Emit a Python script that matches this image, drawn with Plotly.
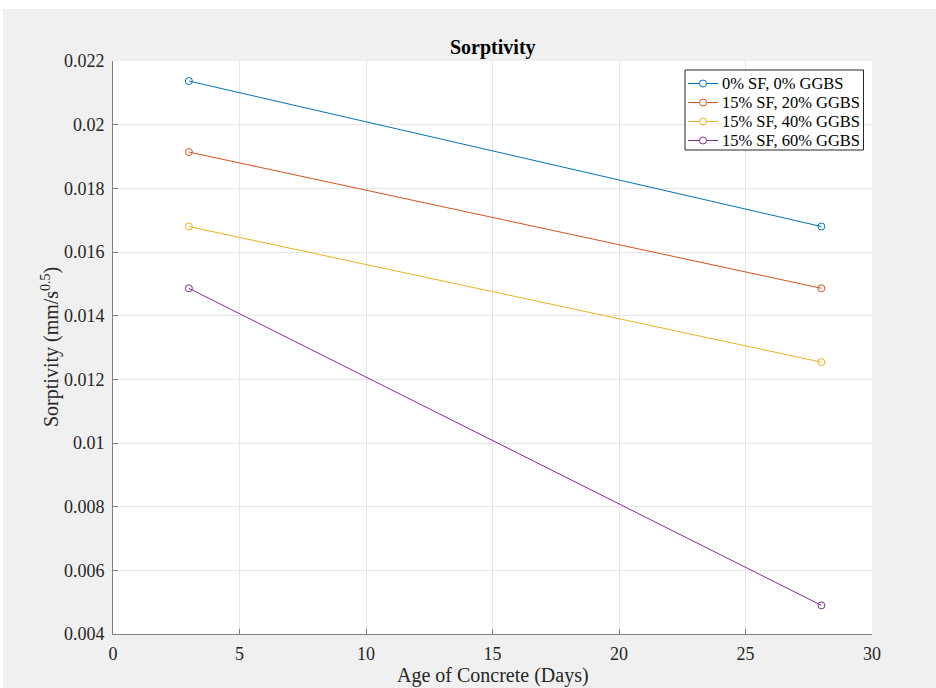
import plotly.graph_objects as go

days = [3, 28]
series_names = ["0% SF, 0% GGBS", "15% SF, 20% GGBS", "15% SF, 40% GGBS", "15% SF, 60% GGBS"]
sorptivity_0sf_0ggbs = [0.02137, 0.01680]
sorptivity_15sf_20ggbs = [0.01914, 0.01486]
sorptivity_15sf_40ggbs = [0.01680, 0.01254]
sorptivity_15sf_60ggbs = [0.01486, 0.00490]
colors = ["#0072BD", "#D95319", "#EDB120", "#7E2F8E"]

x_ticks = [0, 5, 10, 15, 20, 25, 30]
y_ticks = [0.004, 0.006, 0.008, 0.01, 0.012, 0.014, 0.016, 0.018, 0.02, 0.022]
y_tick_text = ["0.004", "0.006", "0.008", "0.01", "0.012", "0.014", "0.016", "0.018", "0.02", "0.022"]

FONT = "Liberation Serif"
TXT = "#262626"

fig = go.Figure()
all_series = [sorptivity_0sf_0ggbs, sorptivity_15sf_20ggbs, sorptivity_15sf_40ggbs, sorptivity_15sf_60ggbs]
for name, vals, c in zip(series_names, all_series, colors):
    fig.add_trace(go.Scatter(
        x=days, y=vals, name=name, mode="lines+markers",
        line=dict(color=c, width=1),
        marker=dict(symbol="circle-open", size=7, color=c, line=dict(width=1, color=c)),
        showlegend=False,
    ))

L, R, T, B = 113, 64, 61, 54
W, H = 936, 688
pw, ph = W - L - R, H - T - B

def px(xp):
    return (xp - L) / pw

def py(yp):
    return (H - B - yp) / ph

shapes = [
    dict(type="rect", xref="paper", yref="paper", x0=px(-5), x1=px(W + 5), y0=py(9), y1=py(-5),
         fillcolor="white", line=dict(width=0), layer="below"),
    dict(type="rect", xref="paper", yref="paper", x0=px(-5), x1=px(3), y0=py(H + 5), y1=py(-5),
         fillcolor="white", line=dict(width=0), layer="below"),
    # legend box
    dict(type="rect", xref="paper", yref="paper", x0=px(685), x1=px(863.5), y0=py(150), y1=py(70),
         fillcolor="white", line=dict(width=1, color="#262626"), layer="above"),
]
annotations = [
    dict(text="<b>Sorptivity</b>", xref="paper", yref="paper", x=0.5, y=py(47),
         xanchor="center", yanchor="middle", showarrow=False,
         font=dict(family=FONT, size=20, color="black")),
    dict(text="Age of Concrete (Days)", xref="paper", yref="paper", x=px(492.5), y=py(675),
         xanchor="center", yanchor="middle", showarrow=False,
         font=dict(family=FONT, size=20, color=TXT)),
    dict(text="Sorptivity (mm/s<sup>0.5</sup>)", xref="paper", yref="paper", x=px(50), y=py(347),
         xanchor="center", yanchor="middle", showarrow=False, textangle=-90,
         font=dict(family=FONT, size=20, color=TXT)),
]

row_y = [83.5, 102.5, 121.5, 140.5]
for name, c, ry in zip(series_names, colors, row_y):
    shapes.append(dict(type="line", xref="paper", yref="paper", x0=px(688), x1=px(718), y0=py(ry), y1=py(ry),
                       line=dict(color=c, width=1), layer="above"))
    shapes.append(dict(type="circle", xref="paper", yref="paper", x0=px(699.5), x1=px(706.5),
                       y0=py(ry + 3.5), y1=py(ry - 3.5), fillcolor="white",
                       line=dict(color=c, width=1), layer="above"))
    annotations.append(dict(text=name, xref="paper", yref="paper", x=px(720), y=py(ry),
                            xanchor="left", yanchor="middle", showarrow=False,
                            font=dict(family=FONT, size=16.5, color="black")))

fig.update_layout(
    width=W, height=H,
    margin=dict(l=L, r=R, t=T, b=B),
    paper_bgcolor="#f0f0f0",
    plot_bgcolor="white",
    font=dict(family=FONT, size=18, color=TXT),
    showlegend=False,
    shapes=shapes,
    annotations=annotations,
)

fig.update_xaxes(
    range=[0, 30], tickvals=x_ticks, ticktext=[str(v) for v in x_ticks],
    showgrid=True, gridcolor="#e6e6e6", gridwidth=1,
    showline=True, linecolor="#808080", linewidth=1, mirror=False,
    ticks="inside", ticklen=5, tickcolor="#808080",
    zeroline=False, ticklabelstandoff=3,
    tickfont=dict(family=FONT, size=18, color=TXT),
)
fig.update_yaxes(
    range=[0.004, 0.022], tickvals=y_ticks, ticktext=y_tick_text,
    showgrid=True, gridcolor="#e6e6e6", gridwidth=1,
    showline=True, linecolor="#808080", linewidth=1, mirror=False,
    ticks="inside", ticklen=5, tickcolor="#808080",
    zeroline=False,
    ticklabelstandoff=4,
    tickfont=dict(family=FONT, size=18, color=TXT),
)

fig.write_html("out.html")
